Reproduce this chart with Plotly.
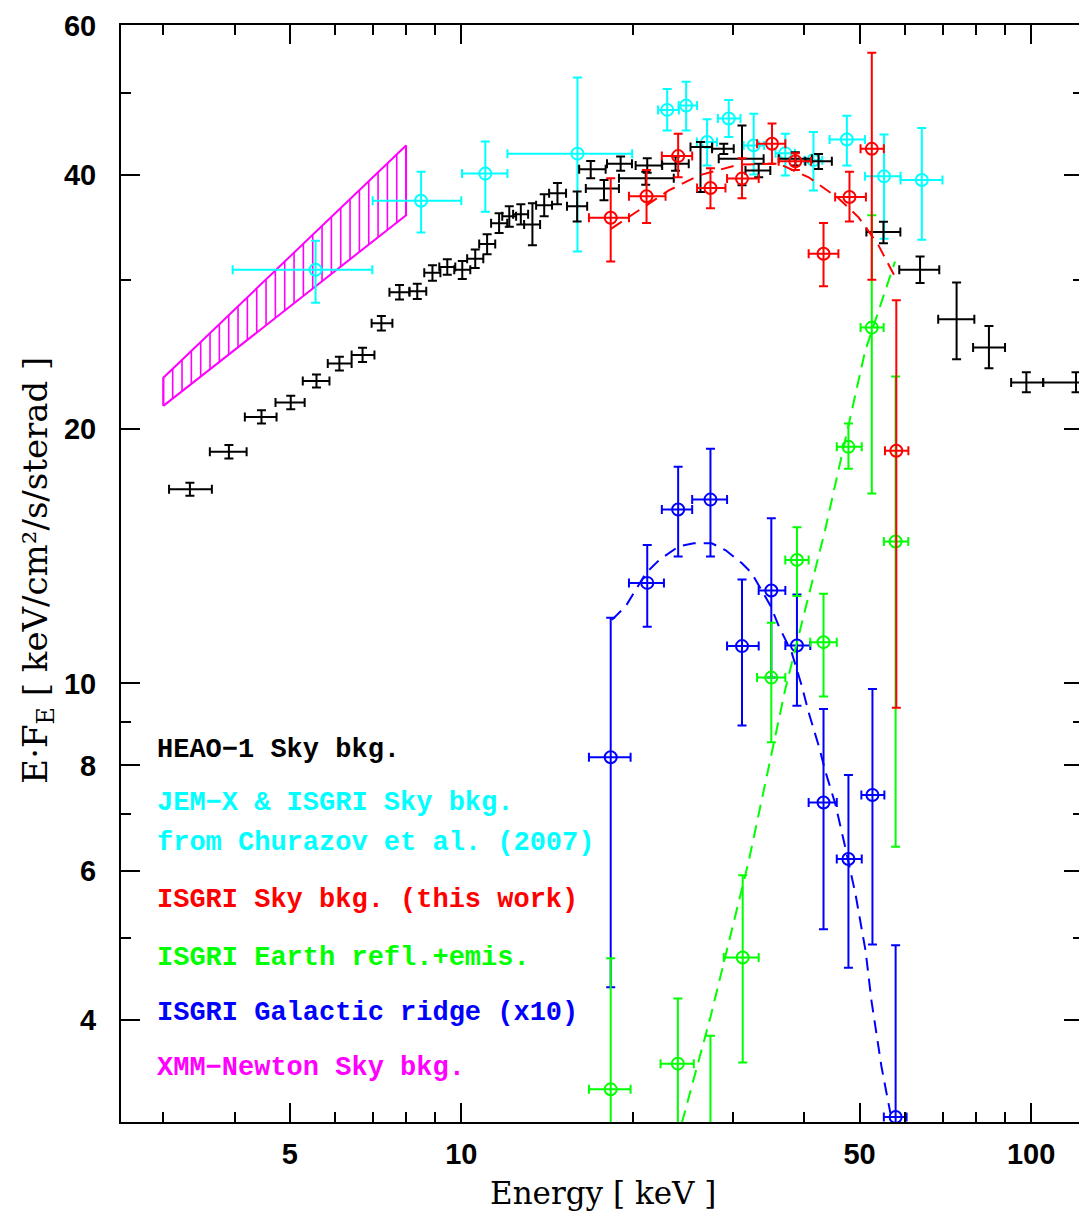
import numpy as np
import plotly.graph_objects as go

# ---------------- data ----------------
# HEAO-1 sky background (black)
heao_E = [3.34, 3.91, 4.46, 5.02, 5.57, 6.11, 6.71, 7.24, 7.79, 8.37, 8.90, 9.45, 10.04, 10.58, 11.10,
          11.65, 12.14, 12.72, 13.33, 13.98, 14.75, 15.97, 16.87, 17.80, 19.04, 21.2, 21.07, 23.77,
          26.29, 28.88, 31.09, 33.26, 38.57, 42.36, 55.06, 63.84, 74.0, 84.33, 98.1, 119.9]
heao_Elo = [3.07, 3.62, 4.17, 4.72, 5.27, 5.83, 6.42, 6.96, 7.48, 8.11, 8.61, 9.15, 9.72, 10.24, 10.75,
            11.28, 11.80, 12.33, 12.89, 13.53, 14.26, 15.33, 16.10, 16.54, 18.02, 20.23, 18.91, 22.49,
            25.25, 27.55, 28.30, 31.53, 36.06, 40.16, 51.4, 58.7, 68.7, 79.1, 92.25, 105.0]
heao_Ehi = [3.65, 4.20, 4.74, 5.31, 5.87, 6.42, 7.04, 7.57, 8.11, 8.68, 9.19, 9.76, 10.37, 10.93, 11.47,
            12.04, 12.48, 13.10, 13.75, 14.43, 15.27, 16.63, 17.92, 18.91, 19.93, 22.52, 23.6, 25.07,
            27.55, 30.07, 33.93, 34.86, 41.24, 44.7, 58.96, 69.0, 79.5, 90.0, 105.0, 137.0]
heao_F = [16.97, 18.8, 20.67, 21.5, 22.8, 23.9, 24.47, 26.67, 29.02, 29.1, 30.6, 31.1, 30.86, 31.79, 33.1,
          35.04, 35.7, 35.9, 34.9, 36.8, 38.0, 36.7, 40.57, 38.5, 41.2, 41.0, 39.6, 41.2,
          43.1, 42.9, 41.77, 40.45, 41.77, 41.47, 34.2, 30.86, 26.96, 24.97, 22.7, 22.7]
heao_Flo = [16.67, 18.45, 20.3, 21.1, 22.4, 23.45, 24.0, 26.15, 28.45, 28.5, 29.95, 30.45, 30.1, 31.0, 32.2,
            34.1, 34.7, 34.9, 33.0, 35.7, 36.9, 35.2, 39.6, 37.3, 40.4, 40.2, 38.9, 40.4,
            38.15, 42.3, 38.85, 39.7, 41.0, 40.6, 33.17, 29.77, 24.18, 23.6, 22.1, 22.1]
heao_Fhi = [17.27, 19.15, 21.05, 21.9, 23.2, 24.35, 24.95, 27.2, 29.6, 29.7, 31.25, 31.75, 31.6, 32.6, 34.0,
            36.0, 36.7, 36.9, 37.0, 37.9, 39.1, 38.2, 41.5, 39.4, 42.0, 41.8, 40.3, 42.0,
            43.7, 43.5, 45.7, 41.2, 42.5, 42.3, 35.17, 32.0, 29.8, 26.47, 23.35, 23.35]

# JEM-X & ISGRI sky background, Churazov et al. 2007 (cyan)
jem_E = [5.55, 8.50, 11.02, 15.99, 22.98, 24.81, 27.0, 29.47, 32.6, 37.04, 41.5, 47.5, 55.2, 64.3]
jem_Elo = [3.97, 6.99, 10.03, 12.05, 22.15, 24.07, 25.9, 28.2, 31.3, 35.6, 40.0, 44.3, 51.1, 59.0]
jem_Ehi = [6.98, 10.0, 12.05, 19.95, 24.09, 25.93, 28.1, 30.9, 34.0, 38.5, 43.0, 51.1, 59.0, 69.9]
jem_F = [30.86, 37.24, 40.1, 42.34, 47.7, 48.26, 43.7, 46.6, 43.3, 42.4, 41.6, 44.0, 39.8, 39.4]
jem_Flo = [28.2, 34.16, 36.14, 32.43, 45.1, 45.1, 41.0, 44.3, 40.0, 39.9, 38.3, 41.0, 33.57, 33.5]
jem_Fhi = [33.4, 40.3, 43.77, 52.1, 50.5, 51.5, 46.5, 49.0, 47.2, 44.7, 44.9, 46.96, 44.6, 45.4]

# ISGRI sky background, this work (red)
sky_E = [18.29, 21.14, 24.02, 27.37, 31.09, 35.1, 38.57, 43.22, 48.0, 52.53, 58.0]
sky_Elo = [16.75, 19.69, 22.49, 25.93, 29.27, 33.04, 36.06, 40.7, 45.3, 50.2, 55.4]
sky_Ehi = [19.69, 22.83, 25.42, 29.08, 33.26, 37.04, 41.1, 45.9, 51.3, 55.15, 60.9]
sky_F = [35.56, 37.7, 42.06, 38.56, 39.56, 43.5, 41.47, 32.23, 37.63, 42.9, 18.85]
sky_Flo = [31.56, 35.05, 39.7, 36.5, 37.5, 41.2, 40.5, 29.5, 35.2, 30.03, 9.36]
sky_Fhi = [39.6, 40.5, 44.7, 40.7, 41.8, 45.96, 42.4, 35.05, 40.3, 55.75, 28.4]

# ISGRI Earth reflection + emission (green)
earth_E = [18.29, 23.99, 27.37, 31.18, 35.0, 38.82, 43.22, 47.8, 52.53, 57.84]
earth_Elo = [16.75, 22.37, 25.93, 28.88, 33.04, 37.04, 40.97, 45.6, 50.2, 55.15]
earth_Ehi = [19.82, 25.59, 29.08, 33.26, 37.04, 40.7, 45.6, 50.44, 55.1, 60.88]
earth_F = [3.31, 3.55, 2.6, 4.74, 10.16, 14.0, 11.19, 19.05, 26.36, 14.72]
earth_Flo = [1.5, 1.5, 1.5, 3.56, 8.52, 12.69, 9.65, 17.95, 16.78, 6.41]
earth_Fhi = [4.73, 4.24, 3.83, 5.93, 11.8, 15.3, 12.77, 20.3, 35.8, 23.08]

# ISGRI Galactic ridge x10 (blue)
ridge_E = [18.29, 21.2, 24.02, 27.37, 31.09, 35.0, 38.82, 43.22, 47.8, 52.67, 57.84]
ridge_Elo = [16.75, 19.69, 22.49, 25.42, 29.27, 33.26, 37.04, 40.7, 45.6, 50.36, 55.15]
ridge_Ehi = [19.82, 22.68, 25.42, 29.27, 33.26, 37.04, 40.97, 45.6, 50.44, 55.27, 60.46]
ridge_F = [8.18, 13.15, 16.06, 16.5, 11.07, 12.88, 11.09, 7.23, 6.2, 7.38, 3.07]
ridge_Flo = [4.37, 11.67, 14.13, 14.13, 8.92, 10.16, 9.41, 5.12, 4.61, 4.91, 1.5]
ridge_Fhi = [11.96, 14.58, 18.05, 18.95, 13.27, 15.68, 12.74, 9.33, 7.79, 9.85, 4.90]

# model curves (dashed)
sky_model_E = [18.31, 20.50, 23.13, 26.11, 30.68, 36.06, 40.7, 45.9, 49.8, 53.95, 57.8]
sky_model_F = [34.5, 36.3, 38.3, 39.9, 41.1, 41.2, 39.7, 37.5, 35.6, 33.0, 30.2]
earth_model_E = [24.38, 27.37, 31.94, 37.04, 43.5, 51.14, 57.7]
earth_model_F = [3.02, 4.03, 6.16, 9.85, 15.19, 24.74, 31.56]
ridge_model_E = [18.38, 19.45, 21.09, 22.23, 24.09, 25.59, 27.51, 29.11, 31.05, 32.33, 34.9, 36.06,
                 38.0, 39.56, 40.70, 42.36, 43.57, 45.36, 47.24, 49.19, 51.22, 52.47, 54.63, 56.64]
ridge_model_F = [11.89, 12.35, 13.51, 13.99, 14.53, 14.65, 14.65, 14.37, 13.88, 13.51, 12.35, 11.70,
                 10.88, 9.95, 9.24, 8.45, 7.86, 7.19, 6.38, 5.63, 4.83, 4.21, 3.52, 3.10]

# XMM-Newton sky background band (magenta, hatched)
xmm_E = [3.0, 8.0]
xmm_Flo = [21.3, 35.8]
xmm_Fhi = [23.0, 43.3]

# axes ticks
x_major = [5, 10, 50, 100]
x_major_text = ["5", "10", "50", "100"]
x_minor = [3, 4, 6, 7, 8, 9, 20, 30, 40, 60, 70, 80, 90]
y_major = [4, 6, 8, 10, 20, 40, 60]
y_major_text = ["4", "6", "8", "10", "20", "40", "60"]
y_minor = [5, 7, 9, 30, 50]

legend_lines = [
    ("HEAO\u22121 Sky bkg.", "#000000"),
    ("JEM\u2212X & ISGRI Sky bkg.", "#00FFFF"),
    ("from Churazov et al. (2007)", "#00FFFF"),
    ("ISGRI Sky bkg. (this work)", "#FF0000"),
    ("ISGRI Earth refl.+emis.", "#00FF00"),
    ("ISGRI Galactic ridge (x10)", "#0000FF"),
    ("XMM\u2212Newton Sky bkg.", "#FF00FF"),
]
legend_ypix = [748, 802, 842, 899, 957, 1013, 1068]

# ---------------- figure ----------------
OFF = 8                      # default page-body margin of the html page
W, H = 1087 - OFF, 1216 - OFF
L, R, T, B = 121, 1085, 20, 1122   # plot-area edges in screen pixels


def err(v, lo, hi, width, thick=2):
    v = np.asarray(v, float)
    return dict(type="data", symmetric=False, array=np.asarray(hi) - v,
                arrayminus=v - np.asarray(lo), thickness=thick, width=width)


def loginterp(x, xp, fp):
    return 10 ** np.interp(np.log10(x), np.log10(xp), np.log10(fp))


fig = go.Figure()

# XMM hatched band
hx, hy = [], []
for xv in np.geomspace(xmm_E[0], xmm_E[1], 27):
    hx += [xv, xv, None]
    hy += [loginterp(xv, xmm_E, xmm_Flo), loginterp(xv, xmm_E, xmm_Fhi), None]
fig.add_trace(go.Scatter(x=hx, y=hy, mode="lines", line=dict(color="#FF00FF", width=1.6),
                         hoverinfo="skip"))
fig.add_trace(go.Scatter(x=[xmm_E[0], xmm_E[1], xmm_E[1], xmm_E[0], xmm_E[0]],
                         y=[xmm_Flo[0], xmm_Flo[1], xmm_Fhi[1], xmm_Fhi[0], xmm_Flo[0]],
                         mode="lines", line=dict(color="#FF00FF", width=2)))


def data_trace(E, Elo, Ehi, F, Flo, Fhi, color, marker=True):
    return go.Scatter(
        x=E, y=F,
        mode="markers",
        marker=dict(symbol="circle-open", size=12 if marker else 1, color=color,
                    line=dict(color=color, width=2 if marker else 0)),
        error_x=dict(err(E, Elo, Ehi, 4.5), color=color),
        error_y=dict(err(F, Flo, Fhi, 4.5), color=color),
    )


fig.add_trace(data_trace(jem_E, jem_Elo, jem_Ehi, jem_F, jem_Flo, jem_Fhi, "#00FFFF"))
fig.add_trace(data_trace(heao_E, heao_Elo, heao_Ehi, heao_F, heao_Flo, heao_Fhi, "#000000", marker=False))
fig.add_trace(data_trace(ridge_E, ridge_Elo, ridge_Ehi, ridge_F, ridge_Flo, ridge_Fhi, "#0000FF"))
fig.add_trace(go.Scatter(x=ridge_model_E, y=ridge_model_F, mode="lines",
                         line=dict(color="#0000FF", width=2, dash="13px,8px")))
fig.add_trace(data_trace(earth_E, earth_Elo, earth_Ehi, earth_F, earth_Flo, earth_Fhi, "#00FF00"))
fig.add_trace(go.Scatter(x=earth_model_E, y=earth_model_F, mode="lines",
                         line=dict(color="#00FF00", width=2, dash="13px,8px")))
fig.add_trace(data_trace(sky_E, sky_Elo, sky_Ehi, sky_F, sky_Flo, sky_Fhi, "#FF0000"))
fig.add_trace(go.Scatter(x=sky_model_E, y=sky_model_F, mode="lines",
                         line=dict(color="#FF0000", width=2, dash="13px,8px")))

tickfont = dict(family="Liberation Sans", size=29, color="#000000", weight="bold")
axis_common = dict(type="log", showgrid=False, zeroline=False, showline=True, linecolor="#000000",
                   linewidth=2, mirror="ticks", ticks="inside", ticklen=19, tickwidth=2,
                   tickcolor="#000000", tickmode="array", tickfont=tickfont,
                   ticklabeloverflow="allow")

fig.update_xaxes(**axis_common,
                 range=[1 + (L - 462) / 571, 1 + (R - 462) / 571],
                 tickvals=x_major, ticktext=x_major_text, ticklabelstandoff=5,
                 minor=dict(tickmode="array", tickvals=x_minor, ticks="inside", ticklen=10,
                            tickwidth=2, tickcolor="#000000", showgrid=False))
fig.update_yaxes(**axis_common,
                 range=[1 - (B - 681) / 850, np.log10(60) + 0.0008],
                 tickvals=y_major, ticktext=y_major_text, ticklabelstandoff=17,
                 minor=dict(tickmode="array", tickvals=y_minor, ticks="inside", ticklen=10,
                            tickwidth=2, tickcolor="#000000", showgrid=False))

pw, ph = R - L, B - T
annotations = []
for (txt, col), yp in zip(legend_lines, legend_ypix):
    annotations.append(dict(x=(155 - L) / pw, y=(B - yp) / ph, xref="paper", yref="paper",
                            text=txt, showarrow=False, xanchor="left", yanchor="middle",
                            font=dict(family="Liberation Mono", size=27, color=col, weight="bold")))
annotations.append(dict(x=(604 - L) / pw, y=(B - 1193) / ph, xref="paper", yref="paper",
                        text="Energy [ keV ]", showarrow=False, xanchor="center", yanchor="middle",
                        font=dict(family="DejaVu Serif", size=31, color="#000000")))
annotations.append(dict(x=(37 - L) / pw, y=(B - 568) / ph, xref="paper", yref="paper",
                        text="E\u00b7F<sub>E</sub> [ keV/cm\u00b2/s/sterad ]", textangle=-90,
                        showarrow=False, xanchor="center", yanchor="middle",
                        font=dict(family="DejaVu Serif", size=34, color="#000000")))

fig.update_layout(width=W, height=H, autosize=False,
                  margin=dict(l=L - OFF, r=(W + OFF) - R, t=T - OFF, b=(H + OFF) - B, pad=0),
                  paper_bgcolor="#FFFFFF", plot_bgcolor="#FFFFFF",
                  showlegend=False, annotations=annotations)

fig.write_html("out.html")
